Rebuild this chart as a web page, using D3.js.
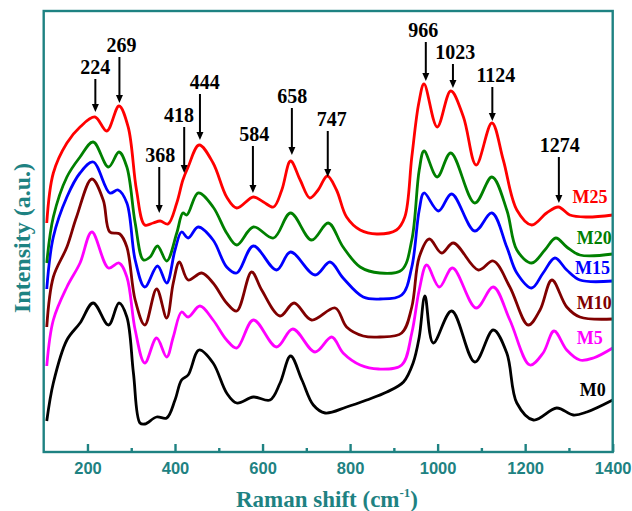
<!DOCTYPE html>
<html>
<head>
<meta charset="utf-8">
<script src="https://cdnjs.cloudflare.com/ajax/libs/d3/7.8.5/d3.min.js"></script>
<style>
body { margin: 0; background: #fff; }
</style>
</head>
<body>
<script>
// spectra: [Raman shift (cm-1), intensity (a.u.)]
var m25 = [[107,229],[122,279],[153,309],[183,325],[217,335],[244,321],[272,346],[293,325],[312,262],[331,227],[350,229],[366,231],[384,228],[404,249],[418,272],[430,285],[455,307],[487,289],[518,255],[541,244],[579,255],[602,250],[625,245],[644,262],[664,291],[686,272],[708,254],[727,262],[748,276],[769,262],[792,235],[823,222],[861,218],[906,222],[925,235],[941,295],[957,349],[969,368],[999,325],[1030,361],[1059,335],[1088,287],[1124,329],[1150,292],[1181,242],[1215,227],[1249,239],[1276,245],[1302,237],[1341,235],[1400,237]];
var m20 = [[107,189],[122,235],[153,275],[183,295],[213,310],[248,285],[272,300],[290,285],[309,229],[328,192],[343,195],[360,206],[381,191],[404,219],[418,239],[427,237],[453,259],[487,245],[518,219],[541,207],[579,225],[625,214],[664,239],[712,212],[750,229],[784,205],[823,185],[868,179],[918,182],[941,212],[958,282],[969,301],[999,275],[1030,299],[1085,249],[1124,275],[1158,242],[1181,202],[1215,189],[1245,202],[1270,214],[1295,205],[1325,197],[1400,198]];
var m15 = [[107,163],[122,215],[153,255],[183,279],[213,290],[251,259],[270,262],[290,249],[309,192],[331,165],[360,186],[381,169],[400,202],[415,220],[430,214],[453,225],[487,212],[518,185],[541,179],[579,206],[632,182],[664,200],[720,177],[754,190],[784,174],[830,155],[868,153],[918,157],[941,185],[958,242],[969,259],[1002,241],[1032,258],[1085,221],[1124,239],[1158,205],[1181,179],[1215,164],[1241,179],[1268,194],[1295,182],[1325,172],[1400,171]];
var m10 = [[107,125],[122,175],[153,205],[175,235],[210,273],[236,252],[251,220],[274,218],[290,205],[309,152],[331,127],[358,163],[381,134],[396,169],[410,190],[430,172],[461,179],[487,169],[518,149],[541,141],[575,180],[598,162],[640,136],[672,149],[712,132],[766,144],[792,125],[830,116],[868,115],[918,119],[941,145],[958,195],[981,213],[1009,199],[1036,209],[1093,182],[1127,191],[1165,165],[1207,127],[1234,142],[1261,172],[1295,145],[1325,135],[1400,133]];
var m5 = [[107,86],[122,132],[153,165],[183,189],[210,220],[248,184],[272,189],[290,175],[309,122],[331,89],[358,114],[381,95],[396,115],[415,140],[430,135],[457,146],[487,132],[518,112],[541,104],[579,132],[632,105],[669,123],[720,100],[758,115],[784,99],[823,87],[865,83],[918,87],[941,119],[958,162],[975,187],[1004,165],[1034,184],[1088,144],[1127,165],[1165,132],[1211,87],[1241,99],[1266,121],[1295,102],[1325,92],[1356,94],[1400,104]];
var m0 = [[107,31],[122,69],[153,112],[183,129],[213,149],[248,127],[272,149],[290,135],[305,79],[320,29],[331,28],[358,35],[381,34],[400,52],[415,72],[430,77],[455,102],[487,89],[518,59],[541,49],[579,55],[617,52],[640,69],[664,96],[690,72],[716,47],[743,39],[792,45],[838,52],[884,60],[922,70],[944,89],[958,115],[971,156],[990,109],[1032,141],[1085,90],[1127,122],[1158,99],[1181,49],[1219,32],[1272,44],[1310,37],[1341,40],[1400,52]];

var seriesNames = ["M0", "M5", "M10", "M15", "M20", "M25"];
var seriesColors = ["#000000", "#ff00ff", "#800000", "#0000ff", "#008000", "#ff0000"];
var seriesData = [m0, m5, m10, m15, m20, m25];
// label anchor [shift, intensity]
var seriesLabelAt = [[1325,56],[1318,108],[1318,143],[1314,178],[1318,208],[1308,249]];

// peak annotations
var peakText  = ["224","269","368","418","444","584","658","747","966","1023","1124","1274"];
var peakShift = [218, 273, 364, 421, 457, 578, 667, 749, 973, 1035, 1125, 1277];
var peakTextShift = [218, 278, 366, 409, 468, 581, 668, 758, 967, 1040, 1133, 1279];
var peakTip = [340, 349, 239, 279, 312, 259, 297, 275, 371, 364, 331, 249];
var peakTop = [373, 395, 285, 325, 358, 306, 344, 321, 410, 388, 365, 295];

var majorTicks = [200, 400, 600, 800, 1000, 1200, 1400];
var minorTicks = [300, 500, 700, 900, 1100, 1300];

var W = 632, H = 511;
var axisColor = "#1e8282";
var serif = "'Times New Roman', 'Liberation Serif', serif";

var x = d3.scaleLinear().domain([100, 1400]).range([43.7, 612.7]);
var y = d3.scaleLinear().domain([0, 441]).range([452, 11]);

var svg = d3.select("body").append("svg")
    .attr("width", W)
    .attr("height", H);

var line = d3.line()
    .x(function(d) { return x(d[0]); })
    .y(function(d) { return y(d[1]); })
    .curve(d3.curveCatmullRom.alpha(0.5));

svg.selectAll("path.spec")
    .data(seriesData)
    .enter()
    .append("path")
    .attr("class", "spec")
    .attr("d", line)
    .attr("fill", "none")
    .attr("stroke", function(d, i) { return seriesColors[i]; })
    .attr("stroke-width", 2.8)
    .attr("stroke-linejoin", "round");

svg.selectAll("text.sname")
    .data(seriesNames)
    .enter()
    .append("text")
    .attr("class", "sname")
    .attr("x", function(d, i) { return x(seriesLabelAt[i][0]); })
    .attr("y", function(d, i) { return y(seriesLabelAt[i][1]); })
    .attr("fill", function(d, i) { return seriesColors[i]; })
    .attr("font-family", serif)
    .attr("font-weight", "bold")
    .attr("font-size", 18)
    .text(function(d) { return d; });

// arrows
var ann = svg.selectAll("g.peak")
    .data(peakText)
    .enter()
    .append("g")
    .attr("class", "peak");

ann.append("line")
    .attr("x1", function(d, i) { return x(peakShift[i]); })
    .attr("x2", function(d, i) { return x(peakShift[i]); })
    .attr("y1", function(d, i) { return y(peakTop[i]); })
    .attr("y2", function(d, i) { return y(peakTip[i]) - 6; })
    .attr("stroke", "#000")
    .attr("stroke-width", 2);

ann.append("path")
    .attr("d", function(d, i) {
        var px = x(peakShift[i]), py = y(peakTip[i]);
        return "M" + (px - 3.5) + "," + (py - 8) + "L" + (px + 3.5) + "," + (py - 8) + "L" + px + "," + py + "Z";
    })
    .attr("fill", "#000");

ann.append("text")
    .attr("x", function(d, i) { return x(peakTextShift[i]); })
    .attr("y", function(d, i) { return y(peakTop[i]) - 5; })
    .attr("text-anchor", "middle")
    .attr("font-family", serif)
    .attr("font-weight", "bold")
    .attr("font-size", 20)
    .attr("fill", "#000")
    .text(function(d) { return d; });

// frame
svg.append("rect")
    .attr("x", 43.7)
    .attr("y", 11)
    .attr("width", 569)
    .attr("height", 441)
    .attr("fill", "none")
    .attr("stroke", axisColor)
    .attr("stroke-width", 2.4);

var gx = svg.append("g")
    .attr("transform", "translate(0,452)")
    .call(d3.axisBottom(x).tickValues(majorTicks).tickSize(-8).tickPadding(10).tickFormat(d3.format("d")));
gx.select(".domain").remove();
gx.selectAll("line").attr("stroke", axisColor).attr("stroke-width", 2.4);
gx.selectAll("text")
    .attr("fill", axisColor)
    .attr("font-family", "Arial, 'Liberation Sans', sans-serif")
    .attr("font-weight", "bold")
    .attr("font-size", 16.5);

var gm = svg.append("g")
    .attr("transform", "translate(0,452)")
    .call(d3.axisBottom(x).tickValues(minorTicks).tickSize(-4).tickFormat(""));
gm.select(".domain").remove();
gm.selectAll("line").attr("stroke", axisColor).attr("stroke-width", 2.4);

// axis titles
var xt = svg.append("text")
    .attr("x", 327)
    .attr("y", 507)
    .attr("text-anchor", "middle")
    .attr("fill", axisColor)
    .attr("font-family", serif)
    .attr("font-weight", "bold")
    .attr("font-size", 23);
xt.append("tspan").text("Raman shift (cm");
xt.append("tspan").attr("dy", -10).attr("font-size", 13).text("-1");
xt.append("tspan").attr("dy", 10).text(")");

svg.append("text")
    .attr("transform", "translate(30,238) rotate(-90)")
    .attr("text-anchor", "middle")
    .attr("fill", axisColor)
    .attr("font-family", serif)
    .attr("font-weight", "bold")
    .attr("font-size", 24)
    .text("Intensity (a.u.)");
</script>
</body>
</html>
